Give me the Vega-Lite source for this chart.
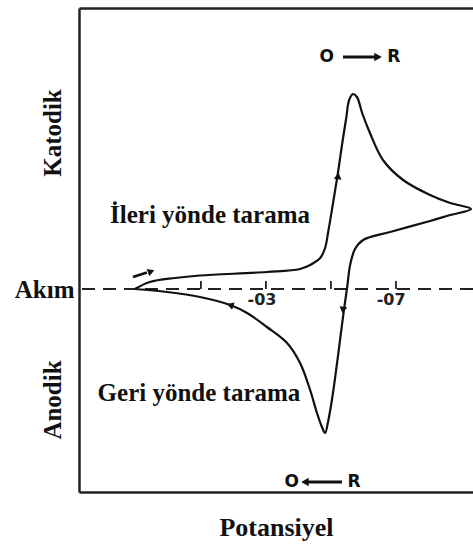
{
  "$schema": "https://vega.github.io/schema/vega-lite/v6.json",
  "width": 394,
  "height": 484,
  "autosize": {"type": "none"},
  "padding": {"left": 79, "top": 8, "right": 0, "bottom": 55},
  "background": "white",
  "config": {"view": {"stroke": null}, "font": "Liberation Serif"},
  "datasets": {
    "curve": [
      {"seq": 1, "E": 0.103, "i": 0.0},
      {"seq": 2, "E": 0.057, "i": 0.07},
      {"seq": 3, "E": -0.02, "i": 0.11},
      {"seq": 4, "E": -0.097, "i": 0.135},
      {"seq": 5, "E": -0.303, "i": 0.17},
      {"seq": 6, "E": -0.405, "i": 0.2},
      {"seq": 7, "E": -0.436, "i": 0.24},
      {"seq": 8, "E": -0.467, "i": 0.31},
      {"seq": 9, "E": -0.482, "i": 0.41},
      {"seq": 10, "E": -0.491, "i": 0.56},
      {"seq": 11, "E": -0.503, "i": 0.79},
      {"seq": 12, "E": -0.513, "i": 0.99},
      {"seq": 13, "E": -0.522, "i": 1.17},
      {"seq": 14, "E": -0.534, "i": 1.44},
      {"seq": 15, "E": -0.547, "i": 1.71},
      {"seq": 16, "E": -0.556, "i": 1.89},
      {"seq": 17, "E": -0.568, "i": 1.95},
      {"seq": 18, "E": -0.58, "i": 1.92},
      {"seq": 19, "E": -0.596, "i": 1.76},
      {"seq": 20, "E": -0.62, "i": 1.56},
      {"seq": 21, "E": -0.66, "i": 1.29},
      {"seq": 22, "E": -0.722, "i": 1.09},
      {"seq": 23, "E": -0.805, "i": 0.94},
      {"seq": 24, "E": -0.867, "i": 0.86},
      {"seq": 25, "E": -0.931, "i": 0.8},
      {"seq": 26, "E": -0.867, "i": 0.74},
      {"seq": 27, "E": -0.805, "i": 0.68},
      {"seq": 28, "E": -0.682, "i": 0.57},
      {"seq": 29, "E": -0.599, "i": 0.49},
      {"seq": 30, "E": -0.574, "i": 0.4},
      {"seq": 31, "E": -0.559, "i": 0.24},
      {"seq": 32, "E": -0.55, "i": 0.02},
      {"seq": 33, "E": -0.54, "i": -0.21},
      {"seq": 34, "E": -0.528, "i": -0.51},
      {"seq": 35, "E": -0.516, "i": -0.81},
      {"seq": 36, "E": -0.503, "i": -1.11},
      {"seq": 37, "E": -0.491, "i": -1.33},
      {"seq": 38, "E": -0.482, "i": -1.44},
      {"seq": 39, "E": -0.47, "i": -1.36},
      {"seq": 40, "E": -0.457, "i": -1.24},
      {"seq": 41, "E": -0.436, "i": -1.01},
      {"seq": 42, "E": -0.405, "i": -0.74},
      {"seq": 43, "E": -0.365, "i": -0.54},
      {"seq": 44, "E": -0.303, "i": -0.38},
      {"seq": 45, "E": -0.242, "i": -0.24},
      {"seq": 46, "E": -0.19, "i": -0.16},
      {"seq": 47, "E": -0.097, "i": -0.08},
      {"seq": 48, "E": 0.004, "i": -0.03},
      {"seq": 49, "E": 0.103, "i": 0.0}
    ],
    "scanLabels": [
      {"label": "İleri yönde tarama", "E": -0.128, "i": 0.74},
      {"label": "Geri yönde tarama", "E": -0.094, "i": -1.04}
    ],
    "sideLabels": [
      {"label": "Katodik", "E": 0.355, "i": 1.56},
      {"label": "Anodik", "E": 0.355, "i": -1.11}
    ],
    "potentialTicks": [
      {"E": -0.1, "i": 0}, {"E": -0.3, "i": 0}, {"E": -0.5, "i": 0}, {"E": -0.7, "i": 0}
    ],
    "potentialLabels": [
      {"label": "-03", "E": -0.288, "i": -0.11},
      {"label": "-07", "E": -0.685, "i": -0.11}
    ],
    "species": [
      {"label": "O", "E": -0.487, "i": 2.32},
      {"label": "R", "E": -0.693, "i": 2.32},
      {"label": "O", "E": -0.379, "i": -1.93},
      {"label": "R", "E": -0.571, "i": -1.93}
    ],
    "shafts": [
      {"E": -0.537, "E2": -0.636, "i": 2.32, "i2": 2.32},
      {"E": -0.428, "E2": -0.534, "i": -1.93, "i2": -1.93},
      {"E": 0.109, "E2": 0.066, "i": 0.12, "i2": 0.165}
    ]
  },
  "resolve": {"axis": {"x": "independent", "y": "independent"}},
  "encoding": {
    "x": {"field": "E", "type": "quantitative", "scale": {"domain": [0.275, -0.937], "nice": false, "zero": false}, "axis": null},
    "y": {"field": "i", "type": "quantitative", "scale": {"domain": [-2.03, 2.81], "nice": false, "zero": false}, "axis": null}
  },
  "layer": [
    {
      "data": {"values": [{"i": 0}]},
      "mark": {"type": "rule", "color": "#222", "strokeWidth": 2, "strokeDash": [13, 8]},
      "encoding": {
        "x": null,
        "y": {
          "field": "i", "type": "quantitative",
          "scale": {"domain": [-2.03, 2.81], "nice": false, "zero": false},
          "axis": {
            "values": [0], "labelExpr": "'Akım'", "ticks": false, "grid": false, "title": null,
            "domain": true, "domainColor": "#222", "domainWidth": 2.5,
            "labelFont": "Liberation Serif", "labelFontWeight": "bold", "labelFontSize": 25,
            "labelColor": "#111", "labelPadding": 5
          }
        }
      }
    },
    {
      "data": {"name": "potentialTicks"},
      "mark": {"type": "rule", "color": "#222", "strokeWidth": 1.8},
      "encoding": {
        "x": {
          "field": "E", "type": "quantitative",
          "scale": {"domain": [0.275, -0.937], "nice": false, "zero": false},
          "axis": {"orient": "top", "labels": false, "ticks": false, "grid": false, "title": null, "domainColor": "#222", "domainWidth": 2.5}
        },
        "y2": {"datum": 0.08}
      }
    },
    {
      "data": {"name": "curve"},
      "mark": {"type": "line", "color": "#111", "strokeWidth": 2.2, "interpolate": "catmull-rom"},
      "encoding": {
        "x": {
          "field": "E", "type": "quantitative",
          "scale": {"domain": [0.275, -0.937], "nice": false, "zero": false},
          "axis": {
            "orient": "bottom", "labels": false, "ticks": false, "grid": false,
            "title": "Potansiyel", "titleFont": "Liberation Serif", "titleFontWeight": "bold",
            "titleFontSize": 26, "titleColor": "#111", "titlePadding": 22,
            "domainColor": "#222", "domainWidth": 2.5
          }
        },
        "order": {"field": "seq", "type": "quantitative"}
      }
    },
    {
      "data": {"name": "shafts"},
      "mark": {"type": "rule", "color": "#111", "strokeWidth": 2.8},
      "encoding": {
        "x2": {"field": "E2"},
        "y2": {"field": "i2"}
      }
    },
    {
      "data": {"values": [{"E": -0.522, "i": 1.13}]},
      "mark": {"type": "point", "shape": "triangle-up", "filled": true, "color": "#111", "size": 60, "opacity": 1, "angle": 8}
    },
    {
      "data": {"values": [{"E": -0.537, "i": -0.21}]},
      "mark": {"type": "point", "shape": "triangle-down", "filled": true, "color": "#111", "size": 60, "opacity": 1, "angle": 7}
    },
    {
      "data": {"values": [{"E": -0.19, "i": -0.16}]},
      "mark": {"type": "point", "shape": "triangle-left", "filled": true, "color": "#111", "size": 60, "opacity": 1, "angle": 19}
    },
    {
      "data": {"values": [{"E": 0.053, "i": 0.175}]},
      "mark": {"type": "point", "shape": "triangle-right", "filled": true, "color": "#111", "size": 60, "opacity": 1, "angle": 340}
    },
    {
      "data": {"values": [{"E": -0.645, "i": 2.32}]},
      "mark": {"type": "point", "shape": "triangle-right", "filled": true, "color": "#111", "size": 75, "opacity": 1}
    },
    {
      "data": {"values": [{"E": -0.42, "i": -1.93}]},
      "mark": {"type": "point", "shape": "triangle-left", "filled": true, "color": "#111", "size": 75, "opacity": 1}
    },
    {
      "data": {"name": "scanLabels"},
      "mark": {"type": "text", "font": "Liberation Serif", "fontWeight": "bold", "fontSize": 25, "color": "#111", "align": "center", "baseline": "middle"},
      "encoding": {"text": {"field": "label"}}
    },
    {
      "data": {"name": "sideLabels"},
      "mark": {"type": "text", "font": "Liberation Serif", "fontWeight": "bold", "fontSize": 25, "color": "#111", "align": "center", "baseline": "middle", "angle": 270},
      "encoding": {"text": {"field": "label"}}
    },
    {
      "data": {"name": "potentialLabels"},
      "mark": {"type": "text", "font": "DejaVu Sans", "fontWeight": "bold", "fontSize": 16, "color": "#222", "align": "center", "baseline": "middle"},
      "encoding": {"text": {"field": "label"}}
    },
    {
      "data": {"name": "species"},
      "mark": {"type": "text", "font": "DejaVu Sans", "fontWeight": "bold", "fontSize": 17, "color": "#111", "align": "center", "baseline": "middle"},
      "encoding": {"text": {"field": "label"}}
    }
  ]
}
